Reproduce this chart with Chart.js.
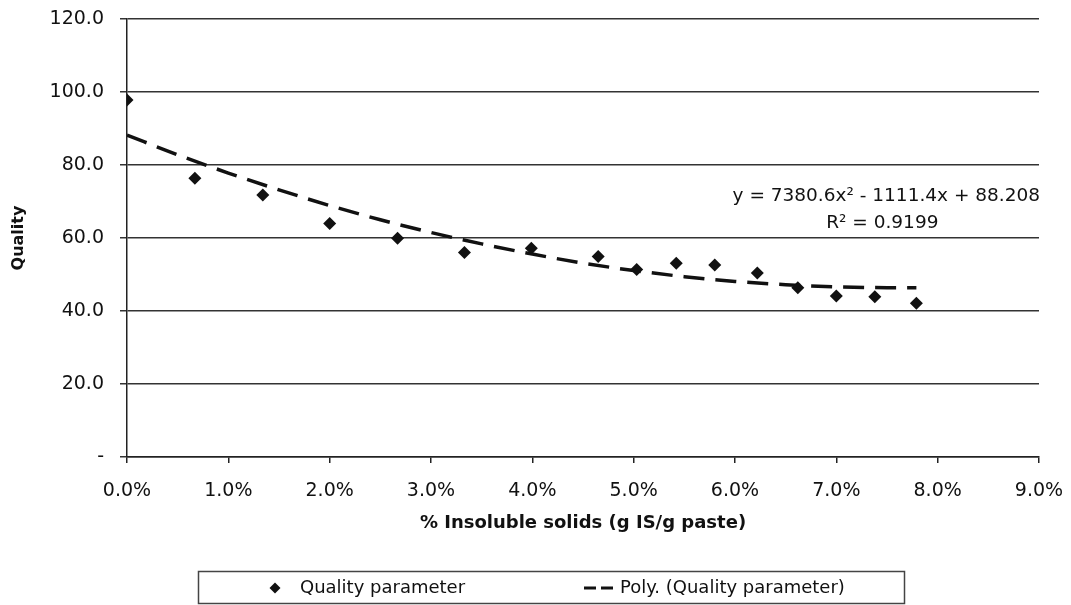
<!DOCTYPE html>
<html>
<head>
<meta charset="utf-8">
<script src="https://cdn.jsdelivr.net/npm/chart.js@4"></script>
<style>
  html, body { margin: 0; padding: 0; background: #ffffff; }
  #wrap { width: 1071px; height: 605px; position: relative; }
  canvas { display: block; }
</style>
</head>
<body>
<div id="wrap"><canvas id="c" width="1071" height="605"></canvas></div>
<script>
// ---- data ----
const qualityX = [0, 0.67, 1.34, 2.0, 2.67, 3.33, 3.99, 4.65, 5.03, 5.42, 5.80, 6.22, 6.62, 7.00, 7.38, 7.79];
const qualityY = [97.8, 76.4, 71.8, 64.0, 59.9, 56.0, 57.2, 54.9, 51.4, 53.1, 52.6, 50.4, 46.4, 44.1, 43.9, 42.1];

// dashed polynomial trend line
const trendX = [0, 0.5, 1.0, 1.5, 2.0, 2.5, 3.0, 3.5, 4.0, 4.5, 5.0, 5.5, 6.0, 6.5, 7.0, 7.5, 7.79];
const trendY = [88.2, 82.8, 77.8, 73.2, 68.9, 65.0, 61.5, 58.4, 55.6, 53.1, 51.1, 49.4, 48.1, 47.2, 46.6, 46.4, 46.4];

const seriesLabels = ['Quality parameter', 'Poly. (Quality parameter)'];
const xTitle = '% Insoluble solids (g IS/g paste)';
const yTitle = 'Quality';
const equationLines = ['y = 7380.6x\u00B2 - 1111.4x + 88.208', 'R\u00B2 = 0.9199'];

const FONT = '"DejaVu Sans", "Liberation Sans", Arial, sans-serif';
const INK = '#111111';

const pointsData = qualityX.map((x, i) => ({ x: x, y: qualityY[i] }));
const trendData = trendX.map((x, i) => ({ x: x, y: trendY[i] }));

function diamond(ctx, x, y, r) {
  ctx.beginPath();
  ctx.moveTo(x, y - r);
  ctx.lineTo(x + r, y);
  ctx.lineTo(x, y + r);
  ctx.lineTo(x - r, y);
  ctx.closePath();
  ctx.fill();
}

const extrasPlugin = {
  id: 'extras',
  afterDraw(chart) {
    const ctx = chart.ctx;
    const area = chart.chartArea;
    const ys = chart.scales.y;
    ctx.save();
    // trend equation
    ctx.fillStyle = INK;
    ctx.font = '18.5px ' + FONT;
    ctx.textBaseline = 'middle';
    const w1 = ctx.measureText(equationLines[0]).width;
    const eqRight = area.right + 1;
    const eqCenter = eqRight - w1 / 2;
    ctx.textAlign = 'right';
    ctx.fillText(equationLines[0], eqRight, ys.getPixelForValue(71.5));
    ctx.textAlign = 'center';
    ctx.fillText(equationLines[1], eqCenter - 4, ys.getPixelForValue(64.0));

    // legend box
    ctx.strokeStyle = '#444';
    ctx.lineWidth = 1.5;
    ctx.strokeRect(198.5, 571.5, 706, 32);
    const ly = 588;
    ctx.fillStyle = INK;
    diamond(ctx, 275, ly, 5.5);
    ctx.textAlign = 'left';
    ctx.font = '18px ' + FONT;
    ctx.fillText(seriesLabels[0], 300, ly);
    ctx.strokeStyle = INK;
    ctx.lineWidth = 3;
    ctx.setLineDash([12, 5]);
    ctx.beginPath();
    ctx.moveTo(584, ly);
    ctx.lineTo(613, ly);
    ctx.stroke();
    ctx.setLineDash([]);
    ctx.fillText(seriesLabels[1], 620, ly);
    ctx.restore();
  }
};

new Chart(document.getElementById('c'), {
  type: 'scatter',
  data: {
    datasets: [
      {
        label: seriesLabels[0],
        data: pointsData,
        showLine: false,
        pointStyle: 'rectRot',
        pointRadius: 6.5,
        pointHoverRadius: 6.5,
        pointBackgroundColor: INK,
        pointBorderColor: INK,
        pointBorderWidth: 0,
        order: 1
      },
      {
        type: 'line',
        label: seriesLabels[1],
        data: trendData,
        showLine: true,
        fill: false,
        pointRadius: 0,
        borderColor: INK,
        borderWidth: 3.5,
        borderDash: [21, 11],
        cubicInterpolationMode: 'monotone',
        order: 2
      }
    ]
  },
  options: {
    responsive: false,
    animation: false,
    events: [],
    layout: { padding: { left: 0, right: 32, top: 19, bottom: 71 } },
    plugins: {
      legend: { display: false },
      tooltip: { enabled: false },
      title: { display: false }
    },
    scales: {
      x: {
        type: 'linear',
        min: 0,
        max: 9,
        afterFit(scale) { scale.height = 77; scale.paddingLeft = 0; scale.paddingRight = 0; },
        ticks: {
          stepSize: 1,
          color: INK,
          font: { family: FONT, size: 19 },
          padding: 17,
          maxRotation: 0,
          callback: (v) => v.toFixed(1) + '%'
        },
        grid: {
          drawOnChartArea: false,
          drawTicks: true,
          tickLength: 6,
          color: '#222',
          lineWidth: 1.5
        },
        border: { display: true, color: '#222', width: 1.5 },
        title: {
          display: true,
          text: xTitle,
          color: INK,
          font: { family: FONT, size: 18, weight: 'bold' },
          padding: { top: 0, bottom: 0 }
        }
      },
      y: {
        type: 'linear',
        min: 0,
        max: 120,
        afterFit(scale) { scale.width = 127; scale.paddingTop = 0; scale.paddingBottom = 0; },
        ticks: {
          stepSize: 20,
          color: INK,
          font: { family: FONT, size: 19 },
          padding: 16,
          callback: (v) => (v === 0 ? '-' : v.toFixed(1))
        },
        grid: {
          drawOnChartArea: true,
          drawTicks: true,
          tickLength: 7,
          color: '#333',
          lineWidth: 1.5
        },
        border: { display: true, color: '#222', width: 1.5 },
        title: {
          display: true,
          text: yTitle,
          color: INK,
          font: { family: FONT, size: 16, weight: 'bold' },
          padding: { top: 9, bottom: 0 }
        }
      }
    }
  },
  plugins: [extrasPlugin]
});
</script>
</body>
</html>
